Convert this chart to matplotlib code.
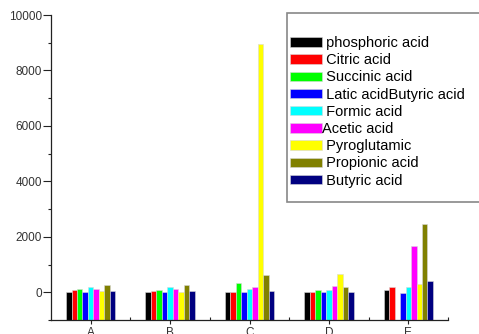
import matplotlib.pyplot as plt
import numpy as np
from matplotlib.patches import Rectangle
from matplotlib.ticker import MultipleLocator

categories = ["A", "B", "C", "D", "E"]
acids = [" phosphoric acid", " Citric acid", " Succinic acid", " Latic acidButyric acid",
         " Formic acid", "Acetic acid", " Pyroglutamic", " Propionic acid", " Butyric acid"]
colors = ["#000000", "#ff0000", "#00ff00", "#0000ff", "#00ffff",
          "#ff00ff", "#ffff00", "#808000", "#000080"]

phosphoric = [20, 25, 25, 25, 100]
citric = [70, 35, 12, 25, 180]
succinic = [110, 70, 340, 70, np.nan]
latic = [12, 12, 12, 12, -10]
formic = [185, 200, 120, 70, 205]
acetic = [110, 120, 205, 240, 1680]
pyroglutamic = [40, 0, 8950, 650, 290]
propionic = [265, 265, 610, 180, 2450]
butyric = [40, 40, 36, 25, 400]
series = [phosphoric, citric, succinic, latic, formic, acetic, pyroglutamic, propionic, butyric]

W, H = 479, 334
y_base = -1000

fig = plt.figure(figsize=(W / 100, H / 100), dpi=100)
plt.rcParams["font.family"] = ["Liberation Sans", "DejaVu Sans"]
ax = fig.add_axes([51 / W, 1 - 320 / H, (448 - 51) / W, (320 - 15) / H])

x = np.arange(len(categories))
bw = 0.069
handles = []
for i, (vals, c) in enumerate(zip(series, colors)):
    # bars rise from the bottom of the axis, as in the original
    heights = np.array(vals, dtype=float) - y_base
    b = ax.bar(x + (i - 4) * bw, heights, bottom=y_base, width=bw, color=c,
               edgecolor="#d8d8d8", linewidth=0.4)
    handles.append(b)

ax.set_xlim(-0.5, 4.5)
ax.set_ylim(y_base, 10000)
ax.set_xticks(x)
ax.set_xticklabels(categories)
ax.xaxis.set_minor_locator(plt.FixedLocator(np.arange(0.5, 4.6, 1)))
ax.yaxis.set_major_locator(plt.FixedLocator([0, 2000, 4000, 6000, 8000, 10000]))
ax.yaxis.set_minor_locator(MultipleLocator(1000))
for s in ["top", "right"]:
    ax.spines[s].set_visible(False)
for s in ["left", "bottom"]:
    ax.spines[s].set_color("#222222")
    ax.spines[s].set_linewidth(0.9)
ax.tick_params(axis="y", which="major", direction="out", length=5.5, width=0.8,
               colors="#222222", labelsize=8.5, pad=1, labelcolor="#333333")
ax.tick_params(axis="y", which="minor", direction="out", length=2.5, width=0.8, colors="#222222")
ax.tick_params(axis="x", which="major", direction="out", length=3, width=0.8,
               colors="#222222", labelsize=8.5, pad=2, labelcolor="#333333")
ax.tick_params(axis="x", which="minor", direction="in", length=2.5, width=0.8, colors="#222222")

fig.patches.append(Rectangle((287 / W, 1 - 202 / H), 200 / W, 189 / H, transform=fig.transFigure,
                             facecolor="white", edgecolor="#888888", linewidth=1.2, zorder=5))
leg = fig.legend(handles, acids, loc="upper left", bbox_to_anchor=(290 / W, 1 - 36 / H),
                 frameon=False, fontsize=10.5, handlelength=2.2, handleheight=0.62,
                 handletextpad=0.0, labelspacing=0.22, borderpad=0, borderaxespad=0)
leg.set_zorder(6)

fig.savefig("out.png", dpi=100)
